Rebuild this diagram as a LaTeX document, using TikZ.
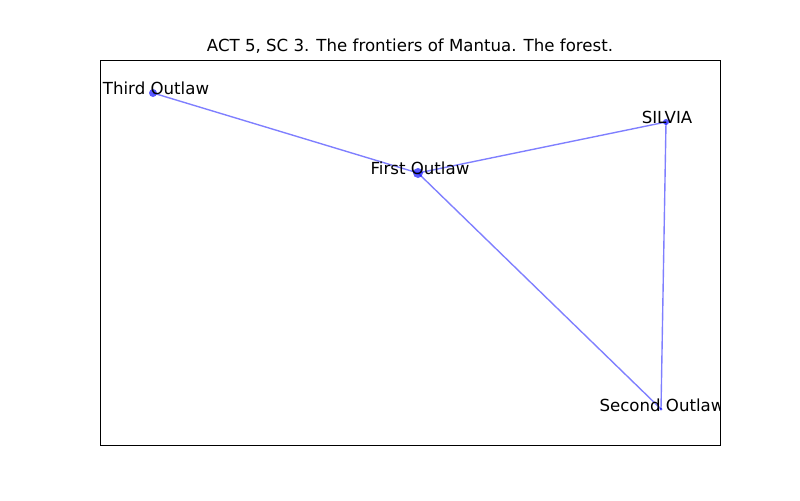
\documentclass[tikz,border=0pt]{standalone}
\usepackage{fontspec}
\setmainfont{DejaVu Sans}
\begin{document}
\begin{tikzpicture}[x=0.01in,y=-0.01in,
  edge/.style={draw=blue,draw opacity=0.5,line width=1pt},
  dot/.style={circle,fill=blue,fill opacity=0.65,inner sep=0pt},
  lab/.style={anchor=base,inner sep=0pt,font=\fontsize{12}{14}\selectfont}]
\useasboundingbox (0,0) rectangle (800,500);
\node[font=\fontsize{12}{14}\selectfont,anchor=base] (title) at (410,51) {ACT 5, SC 3. The frontiers of Mantua. The forest.};
\begin{scope}
\clip (100,60) rectangle (720,445);
\node[dot,minimum size=0.08in] (third) at (153,93) {};
\node[dot,minimum size=0.1in] (first) at (418,173) {};
\node[dot,minimum size=0.06in] (silvia) at (666,122) {};
\node[dot,minimum size=0.03in] (second) at (661,409) {};
\path[edge] (third.center) -- (first.center);
\path[edge] (first.center) -- (silvia.center);
\path[edge] (first.center) -- (second.center);
\path[edge] (silvia.center) -- (second.center);
\node[lab] (lthird) at (156,94.5) {Third Outlaw};
\node[lab] (lfirst) at (420,174.5) {First Outlaw};
\node[lab] (lsilvia) at (667,123.5) {SILVIA};
\node[lab] (lsecond) at (662,411) {Second Outlaw};
\end{scope}
\node[draw=black,line width=0.6pt,inner sep=0pt,minimum width=6.2in,minimum height=3.85in,anchor=north west] (frame) at (100,60) {};
\end{tikzpicture}
\end{document}
